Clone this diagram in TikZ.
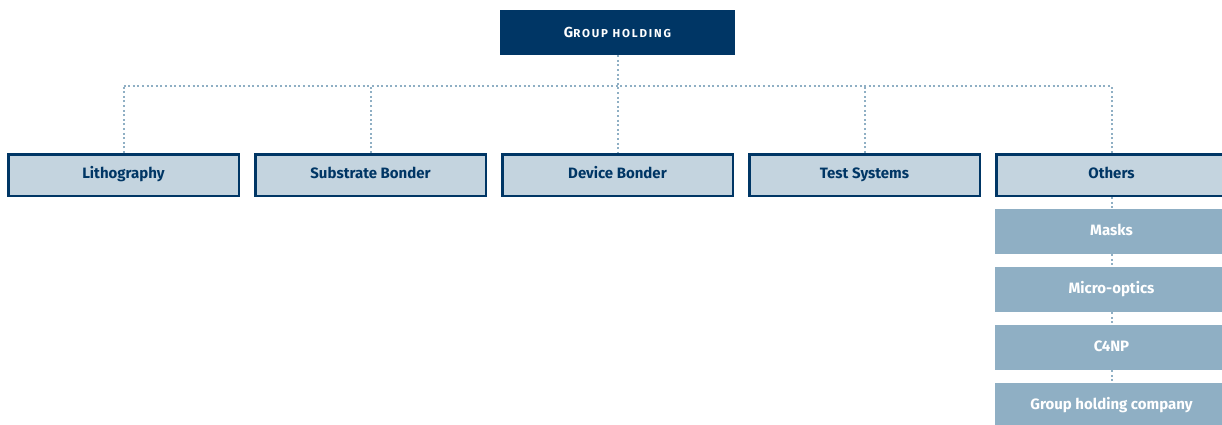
\documentclass[tikz,border=0pt]{standalone}
\usepackage{fontspec}
\setmainfont{Fira Sans}
\usetikzlibrary{positioning}

\definecolor{navy}{HTML}{003665}
\definecolor{paleblue}{HTML}{C4D4DF}
\definecolor{steelblue}{HTML}{8FAFC4}

\begin{document}
\begin{tikzpicture}[x=1pt,y=1pt,node distance=247pt,on grid,
    holding/.style={fill=navy,text=white,minimum width=235pt,minimum height=45pt,inner sep=0pt},
    division/.style={draw=navy,line width=2.5pt,fill=paleblue,text=navy,minimum width=230.5pt,
      minimum height=41.5pt,inner sep=0pt,text height=10.5pt,text depth=3pt,
      font=\fontsize{15}{17}\selectfont\bfseries},
    unit/.style={fill=steelblue,text=white,minimum width=233pt,minimum height=45pt,inner sep=0pt,
      text height=10.5pt,text depth=3pt,font=\fontsize{15}{17}\selectfont\bfseries},
    link/.style={draw=steelblue,line width=2pt,dash pattern=on 2pt off 2.6pt}]
  \useasboundingbox (0,0) rectangle (1222,-424);

  % top of the tree
  \node[holding] (top) at (617.5,-32.5)
    {\bfseries\addfontfeatures{LetterSpace=16}\fontsize{14.5}{15}\selectfont G\fontsize{11.5}{12}\selectfont ROUP HOLDING};

  % divisions
  \node[division] (litho) at (123.5,-175) {Lithography};
  \node[division] (subst) [right=of litho] {Substrate Bonder};
  \node[division] (dev)   [right=of subst] {Device Bonder};
  \node[division] (test)  [right=of dev]   {Test Systems};
  \node[division] (oth)   [right=of test]  {Others};

  % units below others
  \node[unit] (masks) [below=56.5pt of oth]   {Masks};
  \node[unit] (micro) [below=58pt of masks]  {Micro-optics};
  \node[unit] (cnp)   [below=58pt of micro]  {C4NP};
  \node[unit] (ghc)   [below=58pt of cnp]    {Group holding company};

  % dotted connectors
  \coordinate (bus) at (0,-86);
  \path[link] (top.south) edge (dev.north)
              (litho |- bus) edge (oth |- bus)
              (litho.north) edge (litho |- bus)
              (subst.north) edge (subst |- bus)
              (test.north) edge (test |- bus)
              (oth.north) edge (oth |- bus)
              (oth.south) edge (masks.north)
              (masks.south) edge (micro.north)
              (micro.south) edge (cnp.north)
              (cnp.south) edge (ghc.north);
\end{tikzpicture}
\end{document}
